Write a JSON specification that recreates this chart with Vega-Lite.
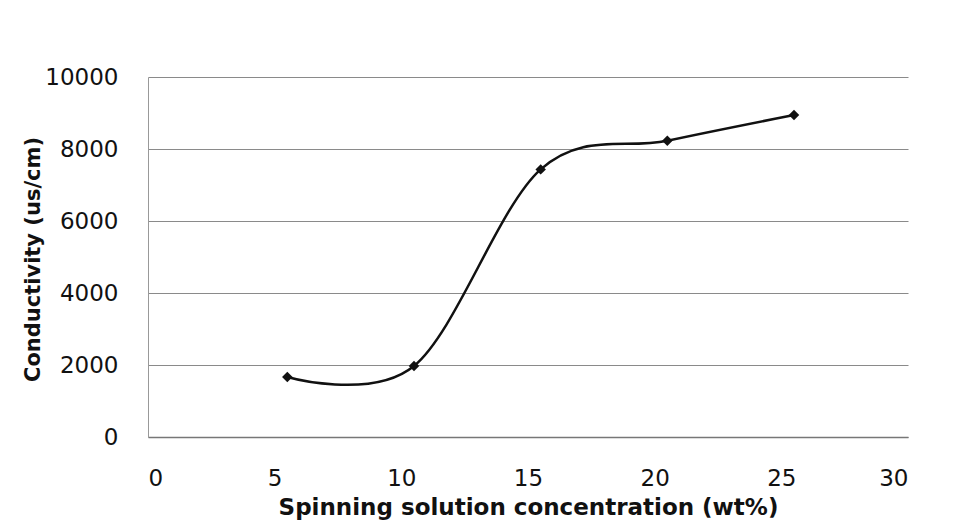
{
  "$schema": "https://vega.github.io/schema/vega-lite/v6.json",
  "width": 760,
  "height": 360,
  "autosize": {"type": "none"},
  "padding": {"left": 148, "top": 77, "right": 69, "bottom": 89},
  "background": "white",
  "config": {
    "view": {"stroke": null},
    "font": "DejaVu Sans"
  },
  "data": {
    "values": [
      {"concentration": 5.5, "conductivity": 1668},
      {"concentration": 10.5, "conductivity": 1974},
      {"concentration": 15.5, "conductivity": 7434},
      {"concentration": 20.5, "conductivity": 8229},
      {"concentration": 25.5, "conductivity": 8944}
    ]
  },
  "encoding": {
    "x": {
      "field": "concentration",
      "type": "quantitative",
      "scale": {"domain": [0, 30], "nice": false, "zero": false},
      "axis": {
        "values": [0, 5, 10, 15, 20, 25, 30],
        "grid": false,
        "ticks": false,
        "domainColor": "#777777",
        "domainWidth": 1.5,
        "labelFont": "DejaVu Sans",
        "labelFontSize": 23,
        "labelColor": "#111111",
        "labelPadding": 30,
        "title": "Spinning solution concentration (wt%)",
        "titleFont": "DejaVu Sans",
        "titleFontSize": 23,
        "titleFontWeight": "bold",
        "titleColor": "#111111",
        "titlePadding": 6
      }
    },
    "y": {
      "field": "conductivity",
      "type": "quantitative",
      "scale": {"domain": [0, 10000], "nice": false},
      "axis": {
        "values": [0, 2000, 4000, 6000, 8000, 10000],
        "format": "d",
        "grid": true,
        "gridColor": "#8a8a8a",
        "gridWidth": 1.2,
        "ticks": false,
        "domainColor": "#999999",
        "domainWidth": 1,
        "labelFont": "DejaVu Sans",
        "labelFontSize": 23,
        "labelColor": "#111111",
        "labelPadding": 30,
        "title": "Conductivity (us/cm)",
        "titleFont": "DejaVu Sans",
        "titleFontSize": 21,
        "titleFontWeight": "bold",
        "titleColor": "#111111",
        "titleAngle": -90,
        "titleX": -115,
        "titleY": 182,
        "titleAlign": "center",
        "titleBaseline": "middle"
      }
    }
  },
  "layer": [
    {
      "mark": {"type": "line", "interpolate": "cardinal", "color": "#111111", "strokeWidth": 2.5}
    },
    {
      "mark": {"type": "point", "shape": "diamond", "filled": true, "color": "#111111", "size": 110, "opacity": 1}
    }
  ]
}
